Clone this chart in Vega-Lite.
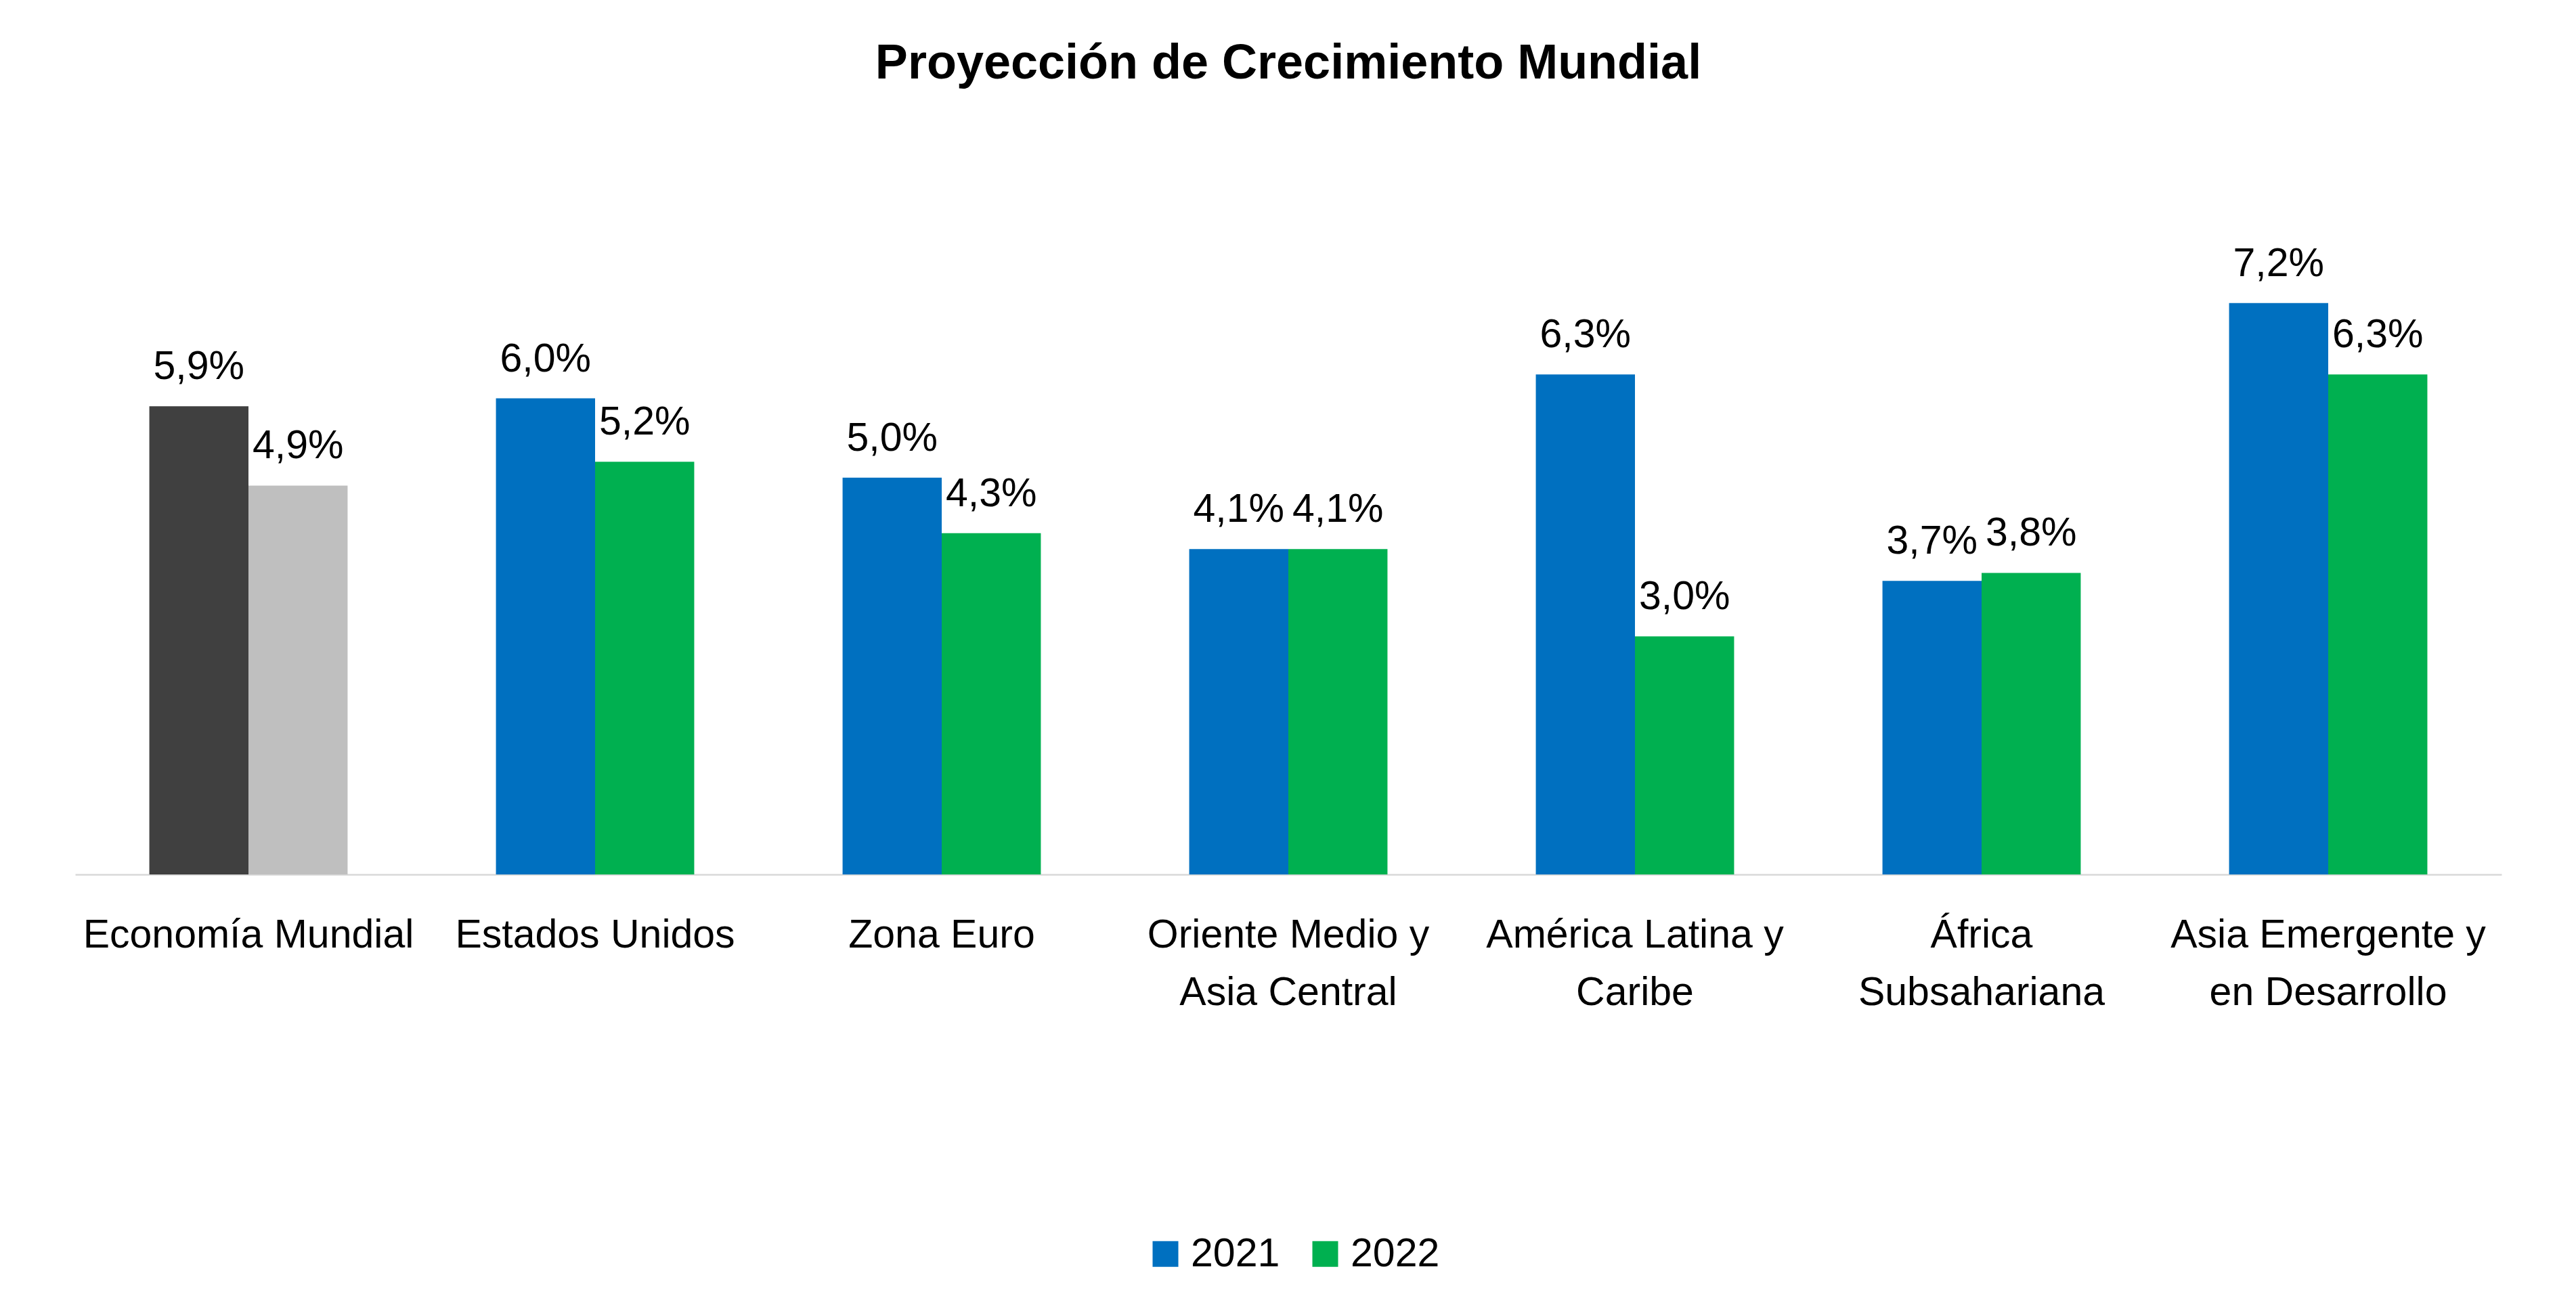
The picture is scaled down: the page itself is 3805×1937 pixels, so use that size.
{
  "$schema": "https://vega.github.io/schema/vega-lite/v6.json",
  "autosize": {"type": "none"},
  "width": 3584,
  "height": 938,
  "padding": {"left": 111, "top": 354, "right": 110, "bottom": 645},
  "background": "white",
  "title": {
    "text": "Proyección de Crecimiento Mundial",
    "font": "Liberation Sans",
    "fontSize": 72,
    "fontWeight": "bold",
    "color": "black",
    "anchor": "middle",
    "frame": "group",
    "baseline": "alphabetic",
    "offset": 166
  },
  "data": {
    "values": [
      {"region": "Economía Mundial", "anio": "2021", "serie": "EM 2021", "valor": 0.059},
      {"region": "Economía Mundial", "anio": "2022", "serie": "EM 2022", "valor": 0.049},
      {"region": "Estados Unidos", "anio": "2021", "serie": "2021", "valor": 0.060},
      {"region": "Estados Unidos", "anio": "2022", "serie": "2022", "valor": 0.052},
      {"region": "Zona Euro", "anio": "2021", "serie": "2021", "valor": 0.050},
      {"region": "Zona Euro", "anio": "2022", "serie": "2022", "valor": 0.043},
      {"region": "Oriente Medio y|Asia Central", "anio": "2021", "serie": "2021", "valor": 0.041},
      {"region": "Oriente Medio y|Asia Central", "anio": "2022", "serie": "2022", "valor": 0.041},
      {"region": "América Latina  y|Caribe", "anio": "2021", "serie": "2021", "valor": 0.063},
      {"region": "América Latina  y|Caribe", "anio": "2022", "serie": "2022", "valor": 0.030},
      {"region": "África|Subsahariana", "anio": "2021", "serie": "2021", "valor": 0.037},
      {"region": "África|Subsahariana", "anio": "2022", "serie": "2022", "valor": 0.038},
      {"region": "Asia Emergente y|en Desarrollo", "anio": "2021", "serie": "2021", "valor": 0.072},
      {"region": "Asia Emergente y|en Desarrollo", "anio": "2022", "serie": "2022", "valor": 0.063}
    ]
  },
  "encoding": {
    "x": {
      "field": "region",
      "type": "nominal",
      "sort": null,
      "scale": {"paddingInner": 0.428, "paddingOuter": 0.214},
      "axis": {
        "title": null,
        "labelAngle": 0,
        "ticks": false,
        "labelPadding": 60,
        "labelFont": "Liberation Sans",
        "labelFontSize": 59,
        "labelColor": "black",
        "labelLineHeight": 85,
        "labelExpr": "split(datum.label, '|')",
        "domainColor": "#D9D9D9",
        "domainWidth": 2.5,
        "labelLimit": 0
      }
    },
    "xOffset": {
      "field": "anio",
      "type": "nominal",
      "scale": {"paddingInner": 0, "paddingOuter": 0}
    },
    "y": {
      "field": "valor",
      "type": "quantitative",
      "scale": {"domain": [0, 0.08]},
      "axis": null
    }
  },
  "layer": [
    {
      "mark": {"type": "bar"},
      "encoding": {
        "color": {
          "field": "serie",
          "type": "nominal",
          "scale": {
            "domain": ["2021", "2022", "EM 2021", "EM 2022"],
            "range": ["#0070C0", "#00B050", "#404040", "#BFBFBF"]
          },
          "legend": {
            "values": ["2021", "2022"],
            "title": null,
            "orient": "none",
            "legendX": 1581,
            "legendY": 1469,
            "direction": "horizontal",
            "padding": 0,
            "symbolType": "square",
            "symbolSize": 1444,
            "symbolStrokeWidth": 0,
            "labelFont": "Liberation Sans",
            "labelFontSize": 59,
            "labelColor": "black",
            "labelOffset": 8,
            "labelLimit": 600,
            "columnPadding": 37
          }
        }
      }
    },
    {
      "mark": {
        "type": "text",
        "baseline": "alphabetic",
        "dy": -40,
        "font": "Liberation Sans",
        "fontSize": 59,
        "color": "black"
      },
      "encoding": {
        "text": {"field": "valor", "type": "quantitative", "format": ".1%"}
      }
    }
  ],
  "config": {
    "view": {"stroke": null},
    "locale": {
      "number": {"decimal": ",", "thousands": ".", "grouping": [3], "currency": ["", " €"]}
    }
  }
}
